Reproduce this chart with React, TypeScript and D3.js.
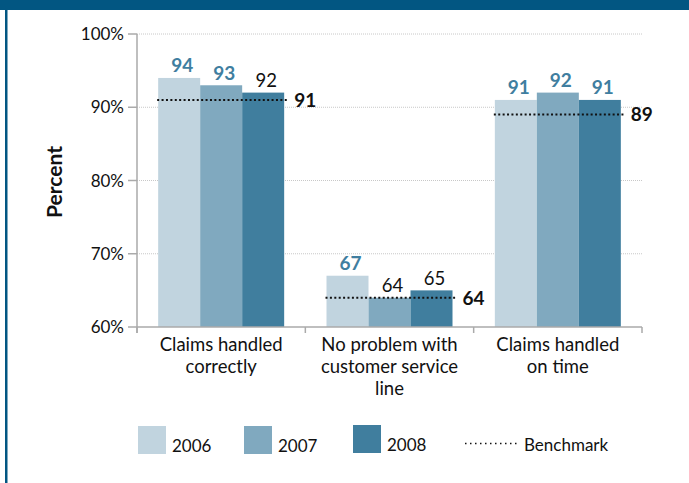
import React from "react";
import * as d3 from "d3";

const categories = [
  ["Claims handled", "correctly"],
  ["No problem with", "customer service", "line"],
  ["Claims handled", "on time"],
];
const years = ["2006", "2007", "2008"];
const values2006 = [94, 67, 91];
const values2007 = [93, 64, 92];
const values2008 = [92, 65, 91];
const highlight2006 = [true, true, true];
const highlight2007 = [true, false, true];
const highlight2008 = [false, false, true];
const benchmark = [91, 64, 89];
const yTicks = [60, 70, 80, 90, 100];

const W = 689;
const H = 483;
const FONT = "Lato, 'Open Sans', sans-serif";
const COLORS = ["#c1d4df", "#80a9bf", "#407e9e"];
const LABEL_BLUE = "#3f7ea0";
const BAND = "#025682";

export default function App() {
  const margin = { left: 137, right: 47, top: 34, bottom: 156 };
  const x = d3
    .scaleBand<number>()
    .domain(d3.range(categories.length))
    .range([margin.left, W - margin.right])
    .paddingInner(0)
    .paddingOuter(0);
  const y = d3.scaleLinear().domain([60, 100]).range([H - margin.bottom, margin.top]);
  const inner = d3.scaleBand<number>().domain([0, 1, 2]).range([0, 126]);
  const groupOffset = (x.bandwidth() - 126) / 2;
  const series = [values2006, values2007, values2008];
  const highlights = [highlight2006, highlight2007, highlight2008];
  const y0 = y(60);

  return (
    <svg
      width={W}
      height={H}
      style={{ position: "absolute", left: 0, top: 0, background: "#fff" }}
      fontFamily={FONT}
    >
      <rect x={0} y={0} width={W} height={10} fill={BAND} />
      <rect x={5} y={0} width={2.5} height={H} fill={BAND} />

      {/* gridlines */}
      {yTicks.slice(1).map((t) => (
        <line
          key={"g" + t}
          x1={margin.left}
          x2={W - margin.right}
          y1={y(t)}
          y2={y(t)}
          stroke="#c8c8c8"
          strokeWidth={1}
          strokeDasharray="1 1"
        />
      ))}

      {/* bars */}
      {categories.map((_, ci) => (
        <g key={"c" + ci} transform={`translate(${(x(ci) ?? 0) + groupOffset},0)`}>
          {series.map((s, si) => (
            <rect
              key={si}
              x={inner(si)}
              y={y(s[ci])}
              width={inner.bandwidth()}
              height={y0 - y(s[ci])}
              fill={COLORS[si]}
            />
          ))}
          {series.map((s, si) => (
            <text
              key={"t" + si}
              x={(inner(si) ?? 0) + inner.bandwidth() / 2 + 3}
              y={y(s[ci]) - 5.5}
              textAnchor="middle"
              fontSize={highlights[si][ci] ? 19 : 18.5}
              fontWeight={highlights[si][ci] ? 700 : 400}
              fill={highlights[si][ci] ? LABEL_BLUE : "#111"}
            >
              {s[ci]}
            </text>
          ))}
          <line
            x1={-1}
            x2={131}
            y1={y(benchmark[ci])}
            y2={y(benchmark[ci])}
            stroke="#111"
            strokeWidth={2}
            strokeDasharray="2 2.4"
          />
          <text
            x={136}
            y={y(benchmark[ci])}
            dy="0.36em"
            fontSize={19}
            fontWeight={700}
            fill="#111"
          >
            {benchmark[ci]}
          </text>
        </g>
      ))}

      {/* y axis */}
      <line x1={margin.left} x2={margin.left} y1={y(100)} y2={y0 + 6} stroke="#aaa" strokeWidth={1.5} />
      {yTicks.map((t) => (
        <g key={"y" + t}>
          <line x1={margin.left - 9} x2={margin.left} y1={y(t)} y2={y(t)} stroke="#aaa" strokeWidth={1.5} />
          <text
            x={margin.left - 13}
            y={y(t)}
            dy="0.36em"
            textAnchor="end"
            fontSize={17}
            fill="#111"
          >
            {t}%
          </text>
        </g>
      ))}
      <text
        transform={`translate(62,182) rotate(-90)`}
        textAnchor="middle"
        fontSize={21}
        fontWeight={700}
        fill="#111"
      >
        Percent
      </text>

      {/* x axis */}
      <line x1={margin.left} x2={W - margin.right} y1={y0} y2={y0} stroke="#aaa" strokeWidth={1.5} />
      {d3.range(categories.length + 1).map((i) => {
        const xx = i < categories.length ? x(i) ?? 0 : (x(i - 1) ?? 0) + x.bandwidth();
        return <line key={"xt" + i} x1={xx} x2={xx} y1={y0} y2={y0 + 6} stroke="#aaa" strokeWidth={1.5} />;
      })}
      {categories.map((lines, ci) => (
        <text
          key={"xl" + ci}
          x={(x(ci) ?? 0) + x.bandwidth() / 2}
          y={351}
          textAnchor="middle"
          fontSize={18.5}
          fill="#111"
        >
          {lines.map((l, li) => (
            <tspan key={li} x={(x(ci) ?? 0) + x.bandwidth() / 2} dy={li === 0 ? 0 : 22}>
              {l}
            </tspan>
          ))}
        </text>
      ))}

      {/* legend */}
      {years.map((yr, i) => {
        const lx = [138, 244, 353][i];
        const ly = [426, 426, 425][i];
        return (
          <g key={"l" + yr}>
            <rect x={lx} y={ly} width={28} height={28} fill={COLORS[i]} />
            <text x={lx + 34} y={ly + 26} fontSize={17} fill="#111">
              {yr}
            </text>
          </g>
        );
      })}
      <line x1={465} x2={520} y1={443.5} y2={443.5} stroke="#111" strokeWidth={1.5} strokeDasharray="1.5 3.5" />
      <text x={524} y={451} fontSize={17} fill="#111">
        Benchmark
      </text>
    </svg>
  );
}
